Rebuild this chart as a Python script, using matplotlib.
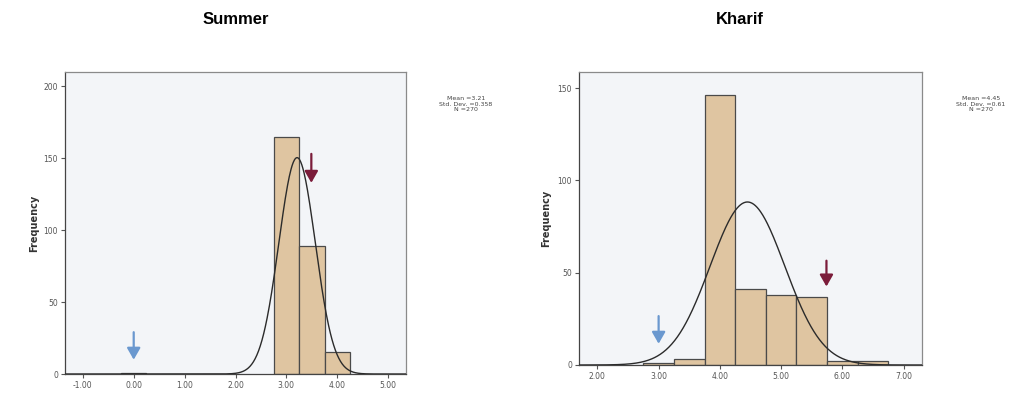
import numpy as np
import matplotlib
matplotlib.use("Agg")
import matplotlib.pyplot as plt

# ---- data ----
summer_bin_left = [-0.25, 2.75, 3.25, 3.75]
summer_counts = [1, 165, 89, 15]
summer_mean, summer_sd, summer_n = 3.21, 0.358, 270
summer_xticks = [-1, 0, 1, 2, 3, 4, 5]
summer_yticks = [0, 50, 100, 150, 200]

kharif_bin_left = [2.75, 3.25, 3.75, 4.25, 4.75, 5.25, 5.75, 6.25]
kharif_counts = [1, 3, 146, 41, 38, 37, 2, 2]
kharif_mean, kharif_sd, kharif_n = 4.45, 0.61, 270
kharif_xticks = [2, 3, 4, 5, 6, 7]
kharif_yticks = [0, 50, 100, 150]

bin_width = 0.5

summer_blue_arrow = (0.0, 31, 8)
summer_red_arrow = (3.49, 155, 131)
kharif_blue_arrow = (3.0, 28, 10)
kharif_red_arrow = (5.74, 58, 41)

summer_stats = "Mean =3.21\nStd. Dev. =0.358\nN =270"
kharif_stats = "Mean =4.45\nStd. Dev. =0.61\nN =270"

BAR = "#dfc5a1"
EDGE = "#4a4a4a"
BG = "#f3f5f8"
FRAME = "#8a8a8a"
BLUE = "#6a98cf"
RED = "#7b1c3a"

fig = plt.figure(figsize=(10.2, 3.94), dpi=100)
fig.patch.set_facecolor("white")


def panel(rect, lefts, counts, mean, sd, n, xticks, yticks, xlim, ylim,
          blue, red, stats, stats_xy, title, title_xy, ylabel_x):
    ax = fig.add_axes(rect)
    ax.set_facecolor(BG)
    ax.bar(lefts, counts, width=bin_width, align="edge", color=BAR,
           edgecolor=EDGE, linewidth=0.9, zorder=2)
    xs = np.linspace(xlim[0], xlim[1], 600)
    ys = n * bin_width / (sd * np.sqrt(2 * np.pi)) * np.exp(-0.5 * ((xs - mean) / sd) ** 2)
    ax.plot(xs, ys, color="#2b2b2b", linewidth=1.0, zorder=3)
    ax.set_xlim(*xlim)
    ax.set_ylim(*ylim)
    ax.set_xticks(xticks)
    ax.set_xticklabels([f"{t:.2f}" for t in xticks])
    ax.set_yticks(yticks)
    ax.set_yticklabels([str(t) for t in yticks])
    ax.tick_params(axis="both", direction="out", length=3, width=0.8,
                   colors="#555555", labelsize=5.5, pad=2)
    for s in ax.spines.values():
        s.set_color(FRAME)
        s.set_linewidth(0.9)
    ax.spines["bottom"].set_color("#444444")
    ax.spines["left"].set_color("#444444")
    ax.set_ylabel("Frequency", fontsize=7, fontweight="bold", color="#333333")
    ax.yaxis.set_label_coords(ylabel_x, 0.5)
    for (x, y0, y1), col in ((blue, BLUE), (red, RED)):
        ax.annotate("", xy=(x, y1), xytext=(x, y0),
                    arrowprops=dict(arrowstyle="-|>,head_width=0.4,head_length=0.7",
                                    color=col, lw=1.6), zorder=4)
    fig.text(stats_xy[0], stats_xy[1], stats, fontsize=4.5, color="#444444",
             ha="center", va="center", linespacing=1.1)
    fig.text(title_xy[0], title_xy[1], title, fontsize=12, fontweight="bold",
             ha="center", va="center", family="Liberation Sans")
    return ax


panel([65 / 1020, 1 - 374 / 394, 341 / 1020, 302 / 394],
      summer_bin_left, summer_counts, summer_mean, summer_sd, summer_n,
      summer_xticks, summer_yticks, (-1.35, 5.35), (0, 210),
      summer_blue_arrow, summer_red_arrow, summer_stats,
      (466 / 1020, 1 - 104 / 394), "Summer", (236 / 1020, 1 - 20 / 394), -0.075)

panel([579 / 1020, 1 - 365 / 394, 343 / 1020, 293 / 394],
      kharif_bin_left, kharif_counts, kharif_mean, kharif_sd, kharif_n,
      kharif_xticks, kharif_yticks, (1.7, 7.3), (0, 158.7),
      kharif_blue_arrow, kharif_red_arrow, kharif_stats,
      (981 / 1020, 1 - 104 / 394), "Kharif", (740 / 1020, 1 - 20 / 394), -0.08)

fig.savefig("out.png", dpi=100, facecolor="white")
